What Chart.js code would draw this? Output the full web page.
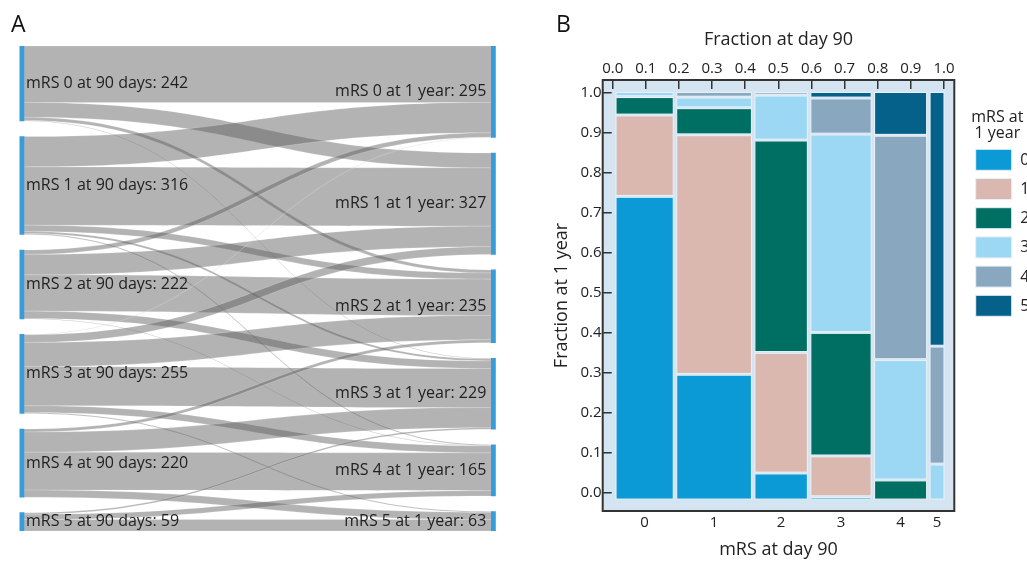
<!DOCTYPE html>
<html><head><meta charset="utf-8">
<script src="https://cdn.jsdelivr.net/npm/chart.js@4.4.1/dist/chart.umd.min.js"></script>
<style>
html,body{margin:0;padding:0;background:#fff;}
#wrap{position:relative;width:1027px;height:561px;overflow:hidden;background:#fff;}
#a{position:absolute;left:0;top:0;}
#b{position:absolute;left:520px;top:0;}
</style></head><body>
<div id="wrap"><canvas id="a" width="520" height="561"></canvas><canvas id="b" width="507" height="561"></canvas></div>
<script>
// ---------------- data ----------------
const mrsCategories = ['0', '1', '2', '3', '4', '5'];
const day90Labels = ['mRS 0 at 90 days', 'mRS 1 at 90 days', 'mRS 2 at 90 days', 'mRS 3 at 90 days', 'mRS 4 at 90 days', 'mRS 5 at 90 days'];
const year1Labels = ['mRS 0 at 1 year', 'mRS 1 at 1 year', 'mRS 2 at 1 year', 'mRS 3 at 1 year', 'mRS 4 at 1 year', 'mRS 5 at 1 year'];
const day90Counts = [242, 316, 222, 255, 220, 59];
const year1Counts = [295, 327, 235, 229, 165, 63];
// patients moving from mRS k at day 90 to mRS 0..5 at 1 year
const fromMrs0 = [182, 48, 10, 2, 0, 0];
const fromMrs1 = [98, 188, 20, 7, 3, 0];
const fromMrs2 = [14, 66, 117, 24, 1, 0];
const fromMrs3 = [1, 25, 78, 126, 22, 3];
const fromMrs4 = [0, 0, 10, 65, 122, 23];
const fromMrs5 = [0, 0, 0, 5, 17, 37];
const flows = [fromMrs0, fromMrs1, fromMrs2, fromMrs3, fromMrs4, fromMrs5];
const fractionTicks = [0, 0.1, 0.2, 0.3, 0.4, 0.5, 0.6, 0.7, 0.8, 0.9, 1.0];
const tileColors = ['#0b9ad6', '#dab8b0', '#006f63', '#9cd8f3', '#89a7be', '#05618a'];

const FONT = "'Open Sans', 'Noto Sans', sans-serif";
const TEXT = '#222';

// ---------------- A: Sankey ----------------
const NODE_GAP = 50;
function stackNodes(counts) {
  let y = 0;
  return counts.map(c => { const s = y; y += c + NODE_GAP; return [s, s + c]; });
}
const leftNodes = stackNodes(day90Counts);
const rightNodes = stackNodes(year1Counts);
const sankeyTotal = day90Counts.reduce((a, b) => a + b, 0) + NODE_GAP * (day90Counts.length - 1);

const links = [];
flows.forEach((row, i) => {
  row.forEach((v, j) => {
    if (v <= 0) return;
    let so = 0; for (let k = 0; k < j; k++) so += flows[i][k];
    let to = 0; for (let k = 0; k < i; k++) to += flows[k][j];
    links.push({ s0: leftNodes[i][0] + so, t0: rightNodes[j][0] + to, v });
  });
});

const nodeBars = leftNodes.map(n => ({ x: 0, y: n })).concat(rightNodes.map(n => ({ x: 1, y: n })));

const sankeyPlugin = {
  id: 'sankey',
  beforeDatasetsDraw(chart) {
    const { ctx, scales: { x, y } } = chart;
    const half = 4.5;
    const x0 = x.getPixelForValue(0) + half, x1 = x.getPixelForValue(1) - half;
    const xm = (x0 + x1) / 2;
    ctx.save();
    links.forEach(l => {
      const sa = y.getPixelForValue(l.s0), sb = y.getPixelForValue(l.s0 + l.v);
      const ta = y.getPixelForValue(l.t0), tb = y.getPixelForValue(l.t0 + l.v);
      ctx.beginPath();
      ctx.moveTo(x0, sa);
      ctx.bezierCurveTo(xm, sa, xm, ta, x1, ta);
      ctx.lineTo(x1, tb);
      ctx.bezierCurveTo(xm, tb, xm, sb, x0, sb);
      ctx.closePath();
      ctx.fillStyle = 'rgba(94,94,94,0.47)';
      ctx.fill();
      ctx.strokeStyle = 'rgba(255,255,255,0.35)';
      ctx.lineWidth = 0.5;
      ctx.stroke();
    });
    ctx.restore();
  },
  afterDatasetsDraw(chart) {
    const { ctx, scales: { x, y } } = chart;
    ctx.save();
    ctx.font = '16px ' + FONT;
    ctx.fillStyle = TEXT;
    ctx.textBaseline = 'middle';
    ctx.textAlign = 'left';
    leftNodes.forEach((n, i) => {
      ctx.fillText(day90Labels[i] + ': ' + day90Counts[i], x.getPixelForValue(0) + 6.5, y.getPixelForValue((n[0] + n[1]) / 2));
    });
    ctx.textAlign = 'right';
    rightNodes.forEach((n, i) => {
      ctx.fillText(year1Labels[i] + ': ' + year1Counts[i], x.getPixelForValue(1) - 9.5, y.getPixelForValue((n[0] + n[1]) / 2));
    });
    ctx.font = '23px ' + FONT;
    ctx.textAlign = 'left';
    ctx.textBaseline = 'alphabetic';
    ctx.fillStyle = '#111';
    ctx.fillText('A', 11, 32);
    ctx.restore();
  }
};

new Chart(document.getElementById('a'), {
  type: 'bar',
  data: { datasets: [{ data: nodeBars, backgroundColor: '#389bda', barThickness: 9, grouped: false, borderWidth: 0 }] },
  options: {
    responsive: false, animation: false, events: [],
    layout: { padding: { left: 19.5, right: 24.2, top: 46, bottom: 30 } },
    scales: {
      x: { type: 'linear', min: 0, max: 1, display: false, offset: false },
      y: { type: 'linear', min: 0, max: sankeyTotal, reverse: true, display: false }
    },
    plugins: { legend: { display: false }, tooltip: { enabled: false } }
  },
  plugins: [sankeyPlugin]
});

// ---------------- B: mosaic ----------------
const TILE_X0 = 0.010, COL_GAP = 0.0103, TILE_Y0 = -0.016, TILE_Y1 = 1.0, TILE_GAP = 0.0044;
const N = day90Counts.reduce((a, b) => a + b, 0);
const usableW = 1 - TILE_X0 - COL_GAP * (day90Counts.length - 1);
const colSpans = [];
{
  let cx = TILE_X0;
  day90Counts.forEach(c => { const w = usableW * c / N; colSpans.push([cx, cx + w]); cx += w + COL_GAP; });
}
const colCenters = colSpans.map(s => (s[0] + s[1]) / 2);

const mosaicPlugin = {
  id: 'mosaic',
  beforeDraw(chart) {
    const { ctx, chartArea: a } = chart;
    ctx.save();
    ctx.fillStyle = '#d5e4f1';
    ctx.fillRect(a.left, a.top, a.right - a.left, a.bottom - a.top);
    ctx.restore();
  },
  beforeDatasetsDraw(chart) {
    const { ctx, scales: { x, y } } = chart;
    ctx.save();
    flows.forEach((row, i) => {
      const tot = row.reduce((a, b) => a + b, 0);
      const nonEmpty = row.filter(v => v > 0).length;
      const span = (TILE_Y1 - TILE_Y0) - TILE_GAP * (nonEmpty - 1);
      let cum = 0, k = 0;
      const px0 = x.getPixelForValue(colSpans[i][0]), px1 = x.getPixelForValue(colSpans[i][1]);
      row.forEach((v, j) => {
        if (v <= 0) return;
        const ya = TILE_Y0 + span * cum / tot + k * TILE_GAP;
        cum += v;
        const yb = TILE_Y0 + span * cum / tot + k * TILE_GAP;
        k++;
        const pa = y.getPixelForValue(ya), pb = y.getPixelForValue(yb);
        ctx.fillStyle = tileColors[j];
        ctx.fillRect(px0, pb, px1 - px0, pa - pb);
        ctx.strokeStyle = '#e6f0f8';
        ctx.lineWidth = 1.1;
        ctx.strokeRect(px0, pb, px1 - px0, pa - pb);
      });
    });
    ctx.restore();
  },
  afterDraw(chart) {
    const { ctx, chartArea: a } = chart;
    ctx.save();
    ctx.strokeStyle = '#333';
    ctx.lineWidth = 2;
    ctx.strokeRect(a.left, a.top, a.right - a.left, a.bottom - a.top);
    // legend
    const lx = a.right + 21.4;
    ctx.fillStyle = TEXT;
    ctx.font = '16px ' + FONT;
    ctx.textAlign = 'center';
    ctx.textBaseline = 'middle';
    ctx.fillText('mRS at', lx + 21.6, 117.5);
    ctx.fillText('1 year', lx + 21.6, 133);
    ctx.textAlign = 'left';
    mrsCategories.forEach((c, k) => {
      const top = 149.3 + k * 29.2;
      ctx.fillStyle = tileColors[k];
      ctx.fillRect(lx, top, 36, 21);
      ctx.strokeStyle = '#e6f0f8';
      ctx.lineWidth = 1;
      ctx.strokeRect(lx, top, 36, 21);
      ctx.fillStyle = TEXT;
      ctx.fillText(c, lx + 44.5, top + 11);
    });
    ctx.font = '23px ' + FONT;
    ctx.fillStyle = '#111';
    ctx.textBaseline = 'alphabetic';
    ctx.fillText('B', 36, 32);
    ctx.restore();
  }
};

const tickFont = { family: FONT, size: 15 };
const titleFont = { family: FONT, size: 18 };

new Chart(document.getElementById('b'), {
  type: 'scatter',
  data: { datasets: [] },
  options: {
    responsive: false, animation: false, events: [],
    layout: { padding: { left: 0, top: 0, right: 72.7, bottom: 0 } },
    scales: {
      x: {
        type: 'linear', position: 'top', min: -0.0302, max: 1.0311,
        afterBuildTicks: s => { s.ticks = fractionTicks.map(v => ({ value: v })); },
        afterFit: s => { s.height = 80; },
        ticks: { callback: v => Number(v).toFixed(1), font: tickFont, color: TEXT, padding: 11.3, maxRotation: 0, autoSkip: false },
        grid: { drawOnChartArea: false, drawTicks: true, tickLength: -9, color: '#333', lineWidth: 1.5 },
        border: { display: false },
        title: { display: true, text: 'Fraction at day 90', font: titleFont, color: TEXT, padding: { top: 29, bottom: 0 } }
      },
      xb: {
        type: 'linear', position: 'bottom', axis: 'x', min: -0.0302, max: 1.0311,
        afterBuildTicks: s => { s.ticks = colCenters.map(v => ({ value: v })); },
        afterFit: s => { s.height = 50; },
        ticks: { callback: (v, i) => mrsCategories[i], font: tickFont, color: TEXT, padding: 2.3, maxRotation: 0, autoSkip: false },
        grid: { display: false, drawTicks: false },
        border: { display: false },
        title: { display: true, text: 'mRS at day 90', font: titleFont, color: TEXT, padding: { top: 0, bottom: 0 } }
      },
      y: {
        type: 'linear', position: 'left', min: -0.0457, max: 1.0311,
        afterBuildTicks: s => { s.ticks = fractionTicks.map(v => ({ value: v })); },
        afterFit: s => { s.width = 82.7; },
        ticks: { callback: v => Number(v).toFixed(1), font: tickFont, color: TEXT, padding: 10.2, autoSkip: false },
        grid: { drawOnChartArea: false, drawTicks: true, tickLength: -9, color: '#333', lineWidth: 1.5 },
        border: { display: false },
        title: { display: true, text: 'Fraction at 1 year', font: titleFont, color: TEXT, padding: { top: 31, bottom: 0 } }
      }
    },
    plugins: { legend: { display: false }, tooltip: { enabled: false } }
  },
  plugins: [mosaicPlugin]
});
</script>
</body></html>
